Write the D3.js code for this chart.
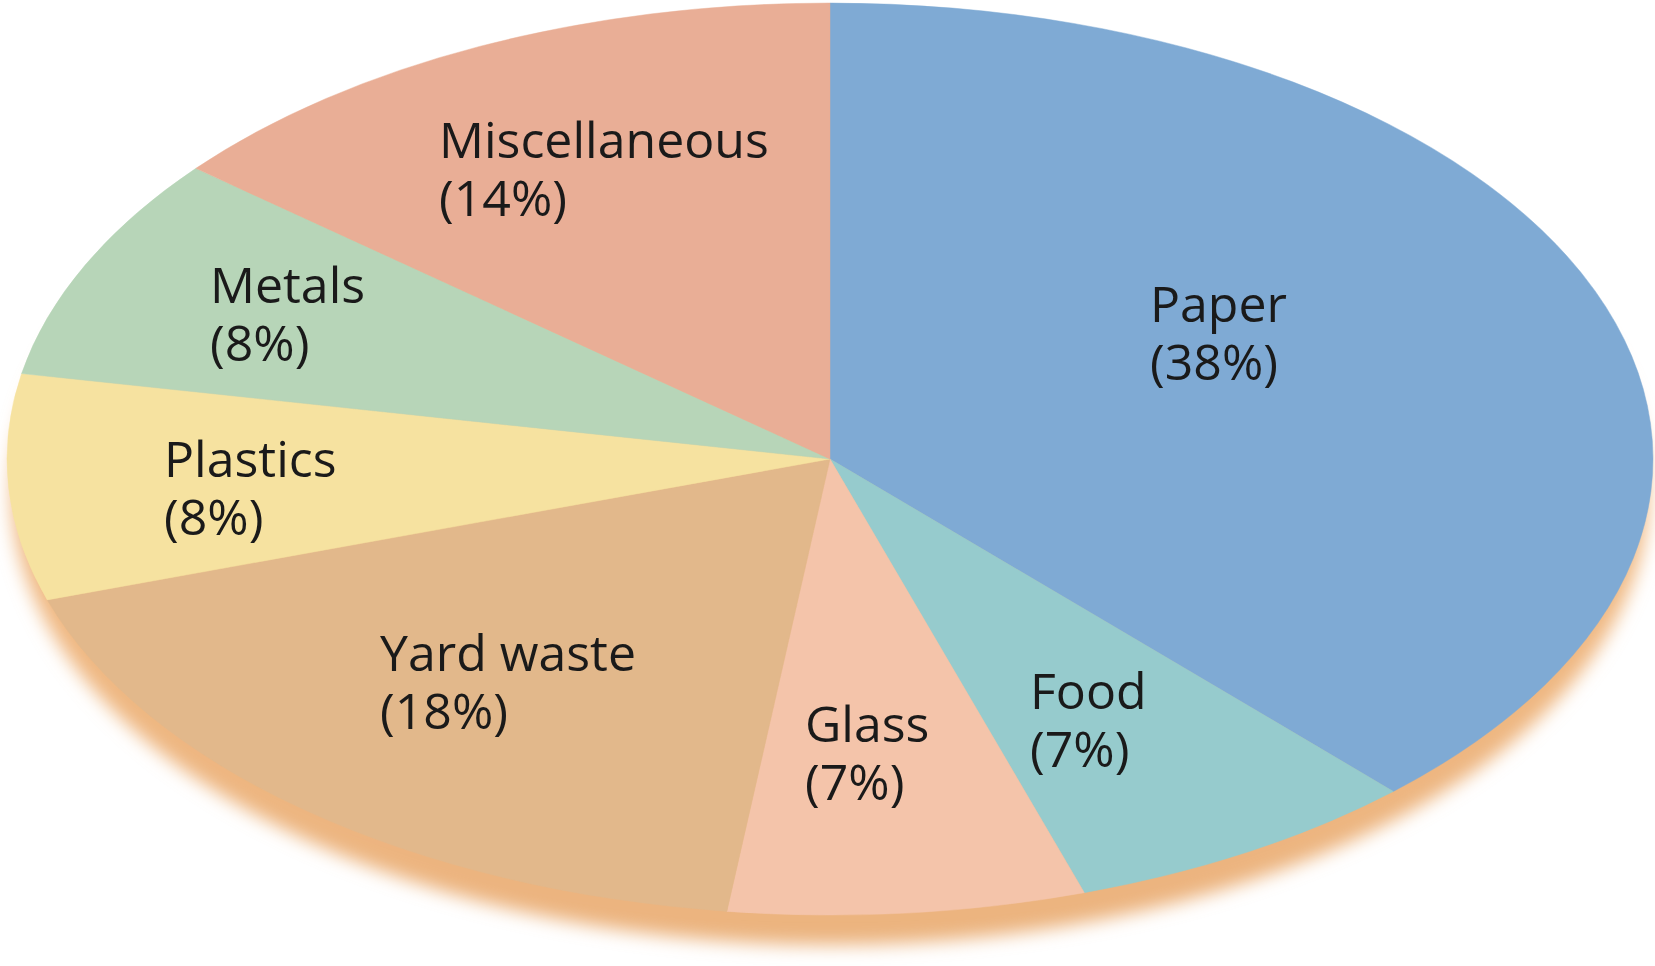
<!DOCTYPE html>
<html>
<head>
<meta charset="utf-8">
<script src="https://cdn.jsdelivr.net/npm/d3@7.8.5/dist/d3.min.js"></script>
<style>
  html, body { margin: 0; padding: 0; background: #fff; }
  svg { display: block; }
  .label { font-family: 'Open Sans', 'Noto Sans', sans-serif; fill: #1a1a1a; }
</style>
</head>
<body>
<div id="chart"></div>
<script>
// waste composition, clockwise from 12 o'clock
const categories = ['Paper', 'Food', 'Glass', 'Yard waste', 'Plastics', 'Metals', 'Miscellaneous'];
const shares = [38, 7, 7, 18, 8, 8, 14];
const colors = ['#7faad4', '#96cbcd', '#f4c4aa', '#e2b88b', '#f6e2a0', '#b7d5b8', '#e9ae96'];

// label anchor (left edge, first baseline) in page pixels
const labelAt = {
  'Paper': [1150, 322],
  'Food': [1030, 709],
  'Glass': [805, 742],
  'Yard waste': [380, 671],
  'Plastics': [164, 477],
  'Metals': [210, 303],
  'Miscellaneous': [439, 158]
};

const width = 1655, height = 966;
const cx = 830, cy = 459, rx = 823, ry = 456;

const svg = d3.select('#chart').append('svg')
  .attr('width', width)
  .attr('height', height);

const defs = svg.append('defs');
defs.append('filter')
  .attr('id', 'soft')
  .attr('x', '-10%').attr('y', '-10%')
  .attr('width', '120%').attr('height', '130%')
  .append('feGaussianBlur')
  .attr('stdDeviation', 9);

const edge = defs.append('linearGradient')
  .attr('id', 'edge-grad')
  .attr('x1', 0).attr('y1', 0).attr('x2', 0).attr('y2', 1);
edge.selectAll('stop')
  .data([
    { offset: '0%', color: '#f4c79c' },
    { offset: '60%', color: '#f0b983' },
    { offset: '100%', color: '#ebb37e' }
  ])
  .enter().append('stop')
  .attr('offset', d => d.offset)
  .attr('stop-color', d => d.color);

// the pie's side/thickness, blurred below the top face
svg.append('ellipse')
  .attr('cx', cx)
  .attr('cy', cy + 32)
  .attr('rx', rx - 4)
  .attr('ry', ry - 2)
  .attr('fill', 'url(#edge-grad)')
  .attr('filter', 'url(#soft)');

const pie = d3.pie().sort(null).value(d => d);
const arc = d3.arc().innerRadius(0).outerRadius(rx);

const face = svg.append('g')
  .attr('transform', `translate(${cx},${cy}) scale(1,${ry / rx})`);

face.selectAll('path')
  .data(pie(shares))
  .enter().append('path')
  .attr('d', arc)
  .attr('fill', (d, i) => colors[i])
  .attr('stroke', (d, i) => colors[i])
  .attr('stroke-width', 0.6);

const labels = svg.append('g');
categories.forEach((name, i) => {
  const [x, y] = labelAt[name];
  const t = labels.append('text')
    .attr('class', 'label')
    .attr('x', x)
    .attr('y', y)
    .style('font-size', '50px');
  t.append('tspan').attr('x', x).text(name);
  t.append('tspan').attr('x', x).attr('dy', 58).text(`(${shares[i]}%)`);
});
</script>
</body>
</html>
